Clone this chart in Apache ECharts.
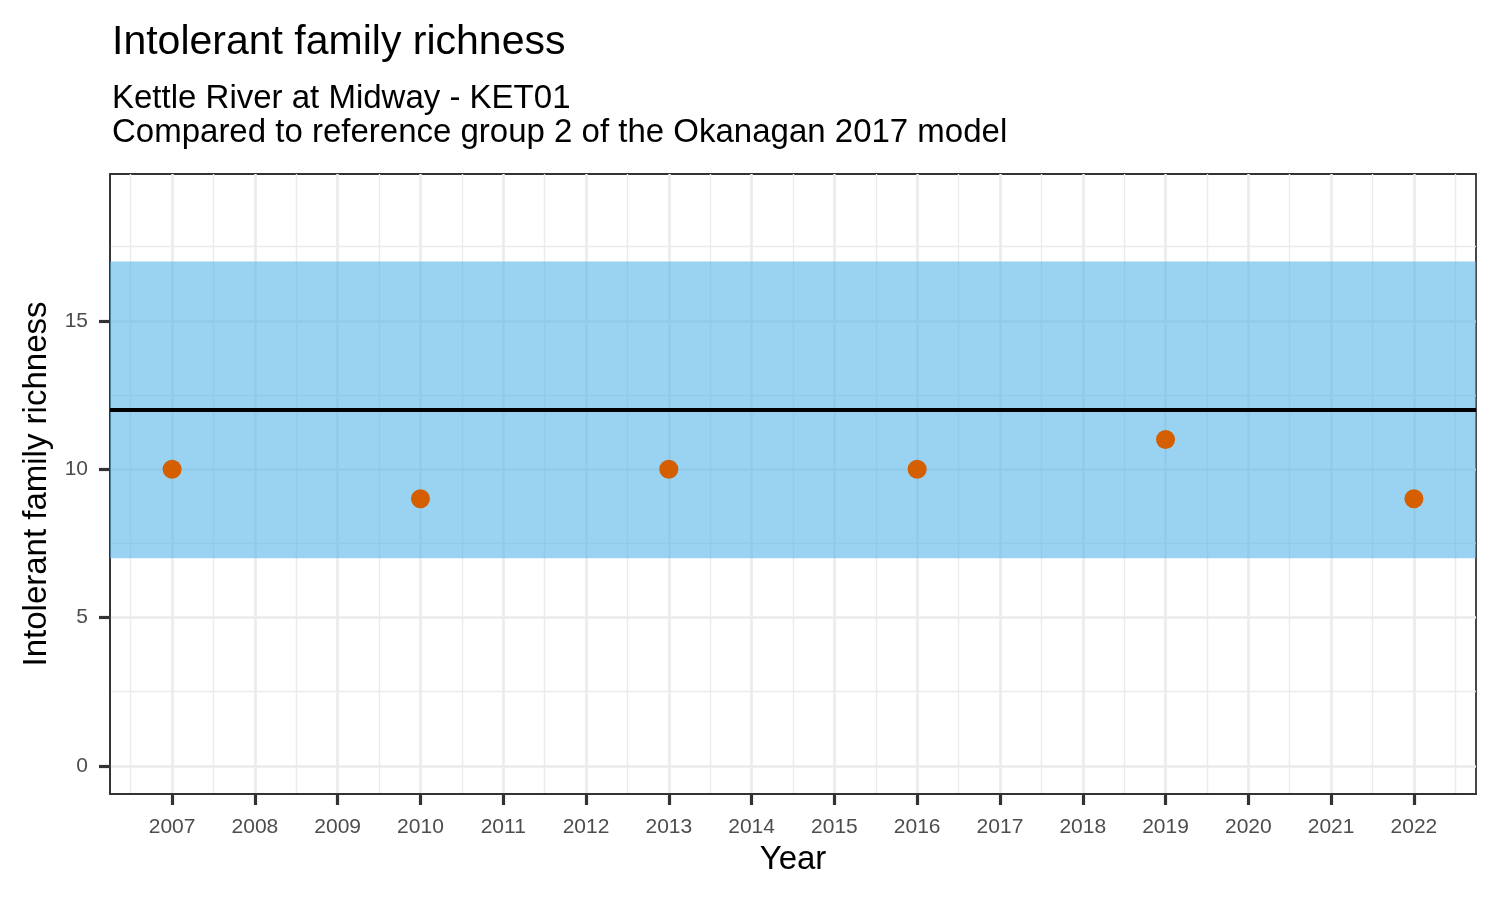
<!DOCTYPE html>
<html>
<head>
<meta charset="utf-8">
<script src="https://cdn.jsdelivr.net/npm/echarts@6/dist/echarts.min.js"></script>
<style>
html,body{margin:0;padding:0;background:#fff;}
#chart{width:1500px;height:900px;}
</style>
</head>
<body>
<div id="chart"></div>
<script>
// ---- data ----
const years = [2007, 2010, 2013, 2016, 2019, 2022];
const richness = [10, 9, 10, 10, 11, 9];
const refMean = 12;
const refLower = 7;
const refUpper = 17;
const xTicks = [2007,2008,2009,2010,2011,2012,2013,2014,2015,2016,2017,2018,2019,2020,2021,2022];
const xMinorTicks = [2006.5,2007.5,2008.5,2009.5,2010.5,2011.5,2012.5,2013.5,2014.5,2015.5,2016.5,2017.5,2018.5,2019.5,2020.5,2021.5,2022.5];
const yTicks = [0, 5, 10, 15];
const yMinorTicks = [2.5, 7.5, 12.5, 17.5];
const titleText = 'Intolerant family richness';
const subtitleText = 'Kettle River at Midway - KET01\nCompared to reference group 2 of the Okanagan 2017 model';
const xName = 'Year';
const yName = 'Intolerant family richness';

const FONT = 'Liberation Sans, Arial, Helvetica, sans-serif';
const chart = echarts.init(document.getElementById('chart'));
const xRange = {min: 2006.25, max: 2022.75};
const yRange = {min: -0.95, max: 19.95};

chart.setOption({
  backgroundColor: '#ffffff',
  animation: false,
  title: [
    {text: titleText, left: 107, top: 17, textStyle: {fontFamily: FONT, fontSize: 41, fontWeight: 'normal', color: '#000'}},
    {text: subtitleText, left: 107, top: 77, textStyle: {fontFamily: FONT, fontSize: 33, fontWeight: 'normal', color: '#000', lineHeight: 34}}
  ],
  grid: {left: 110, right: 24, top: 174, bottom: 106, show: true, borderColor: '#333333', borderWidth: 1.8, backgroundColor: '#fff', containLabel: false},
  xAxis: [
    {
      type: 'value', min: xRange.min, max: xRange.max, position: 'bottom',
      name: xName, nameLocation: 'middle', nameGap: 49,
      nameTextStyle: {fontFamily: FONT, fontSize: 33, color: '#000'},
      axisLine: {show: true, onZero: false, lineStyle: {color: '#333333', width: 1.8}},
      axisTick: {show: true, inside: false, customValues: xTicks, length: 11, lineStyle: {color: '#333333', width: 3.2}},
      axisLabel: {customValues: xTicks, fontFamily: FONT, fontSize: 21, color: '#4D4D4D', margin: 23, formatter: v => String(v)},
      splitLine: {show: true, lineStyle: {color: '#EBEBEB', width: 2.6}}
    },
    {
      type: 'value', min: xRange.min, max: xRange.max, position: 'top',
      axisLine: {show: false, onZero: false},
      axisTick: {show: false, customValues: xMinorTicks},
      axisLabel: {show: false, customValues: xMinorTicks},
      splitLine: {show: true, lineStyle: {color: '#EBEBEB', width: 1.4}}
    }
  ],
  yAxis: [
    {
      type: 'value', min: yRange.min, max: yRange.max, position: 'left',
      name: yName, nameLocation: 'middle', nameGap: 56,
      nameTextStyle: {fontFamily: FONT, fontSize: 33, color: '#000'},
      axisLine: {show: true, onZero: false, lineStyle: {color: '#333333', width: 1.8}},
      axisTick: {show: true, inside: false, customValues: yTicks, length: 11, lineStyle: {color: '#333333', width: 3.2}},
      axisLabel: {customValues: yTicks, fontFamily: FONT, fontSize: 21, color: '#4D4D4D', margin: 22},
      splitLine: {show: true, lineStyle: {color: '#EBEBEB', width: 2.6}}
    },
    {
      type: 'value', min: yRange.min, max: yRange.max, position: 'right',
      axisLine: {show: false, onZero: false},
      axisTick: {show: false, customValues: yMinorTicks},
      axisLabel: {show: false, customValues: yMinorTicks},
      splitLine: {show: true, lineStyle: {color: '#EBEBEB', width: 1.4}}
    }
  ],
  series: [
    {
      type: 'scatter', xAxisIndex: 0, yAxisIndex: 0,
      data: years.map((y, i) => [y, richness[i]]),
      symbol: 'circle', symbolSize: 19,
      itemStyle: {color: '#D55E00', opacity: 1},
      z: 5,
      markArea: {
        silent: true,
        itemStyle: {color: 'rgba(86,180,233,0.6)'},
        data: [[{yAxis: refLower}, {yAxis: refUpper}]]
      },
      markLine: {
        silent: true, symbol: 'none',
        label: {show: false},
        lineStyle: {color: '#000', width: 3.8, type: 'solid'},
        data: [{yAxis: refMean}]
      }
    }
  ]
});
</script>
</body>
</html>
